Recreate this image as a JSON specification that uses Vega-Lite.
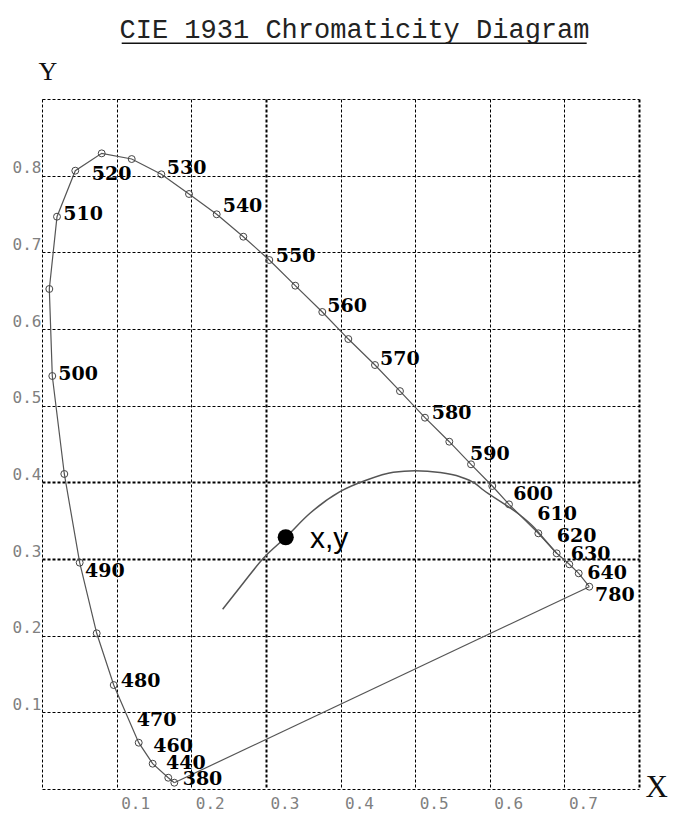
{
  "$schema": "https://vega.github.io/schema/vega-lite/v6.json",
  "width": 597,
  "height": 690,
  "autosize": {"type": "none"},
  "padding": {"left": 42, "top": 99, "right": 59, "bottom": 29},
  "background": "white",
  "title": {
    "text": "CIE 1931 Chromaticity Diagram",
    "font": "Liberation Mono",
    "fontSize": 27,
    "fontWeight": "normal",
    "color": "#222222",
    "anchor": "middle",
    "frame": "group",
    "baseline": "alphabetic",
    "offset": -22,
    "dx": 14
  },
  "config": {"view": {"stroke": null}},
  "datasets": {
    "locus": [
      {"wl": 380, "x": 0.1773, "y": 0.0082},
      {"wl": 440, "x": 0.1692, "y": 0.0147},
      {"wl": 460, "x": 0.1483, "y": 0.0330},
      {"wl": 470, "x": 0.1296, "y": 0.0604},
      {"wl": 480, "x": 0.0961, "y": 0.1356},
      {"wl": 485, "x": 0.0733, "y": 0.2031},
      {"wl": 490, "x": 0.0505, "y": 0.2952},
      {"wl": 495, "x": 0.0299, "y": 0.4109},
      {"wl": 500, "x": 0.0138, "y": 0.5387},
      {"wl": 505, "x": 0.0098, "y": 0.6522},
      {"wl": 510, "x": 0.0201, "y": 0.7465},
      {"wl": 515, "x": 0.0446, "y": 0.8065},
      {"wl": 520, "x": 0.0800, "y": 0.8291},
      {"wl": 525, "x": 0.1202, "y": 0.8217},
      {"wl": 530, "x": 0.1599, "y": 0.8018},
      {"wl": 535, "x": 0.1970, "y": 0.7761},
      {"wl": 540, "x": 0.2341, "y": 0.7496},
      {"wl": 545, "x": 0.2698, "y": 0.7204},
      {"wl": 550, "x": 0.3046, "y": 0.6900},
      {"wl": 555, "x": 0.3394, "y": 0.6565},
      {"wl": 560, "x": 0.3756, "y": 0.6222},
      {"wl": 565, "x": 0.4105, "y": 0.5869},
      {"wl": 570, "x": 0.4462, "y": 0.5530},
      {"wl": 575, "x": 0.4797, "y": 0.5190},
      {"wl": 580, "x": 0.5132, "y": 0.4843},
      {"wl": 585, "x": 0.5458, "y": 0.4530},
      {"wl": 590, "x": 0.5749, "y": 0.4235},
      {"wl": 595, "x": 0.6034, "y": 0.3952},
      {"wl": 600, "x": 0.6258, "y": 0.3713},
      {"wl": 610, "x": 0.6651, "y": 0.3335},
      {"wl": 620, "x": 0.6897, "y": 0.3074},
      {"wl": 630, "x": 0.7066, "y": 0.2931},
      {"wl": 640, "x": 0.7192, "y": 0.2813},
      {"wl": 780, "x": 0.7334, "y": 0.2639}
    ],
    "purple": [
      {"wl": 780, "x": 0.7334, "y": 0.2639},
      {"wl": 380, "x": 0.1773, "y": 0.0082}
    ],
    "labels": [
      {"label": "380", "x": 0.1885, "y": 0.0127},
      {"label": "440", "x": 0.1662, "y": 0.0333},
      {"label": "460", "x": 0.1491, "y": 0.0561},
      {"label": "470", "x": 0.1269, "y": 0.0897},
      {"label": "480", "x": 0.1055, "y": 0.1409},
      {"label": "490", "x": 0.0576, "y": 0.2850},
      {"label": "500", "x": 0.0219, "y": 0.5419},
      {"label": "510", "x": 0.0285, "y": 0.7506},
      {"label": "520", "x": 0.0666, "y": 0.8028},
      {"label": "530", "x": 0.1671, "y": 0.8100},
      {"label": "540", "x": 0.2421, "y": 0.7604},
      {"label": "550", "x": 0.3132, "y": 0.6952},
      {"label": "560", "x": 0.3823, "y": 0.6304},
      {"label": "570", "x": 0.4529, "y": 0.5605},
      {"label": "580", "x": 0.5222, "y": 0.4904},
      {"label": "590", "x": 0.5735, "y": 0.4376},
      {"label": "600", "x": 0.6316, "y": 0.3854},
      {"label": "610", "x": 0.6637, "y": 0.3583},
      {"label": "620", "x": 0.6897, "y": 0.3297},
      {"label": "630", "x": 0.7085, "y": 0.3059},
      {"label": "640", "x": 0.7307, "y": 0.2811},
      {"label": "780", "x": 0.7410, "y": 0.2528}
    ],
    "planck": [
      {"i": 1, "x": 0.2421, "y": 0.2344},
      {"i": 2, "x": 0.2698, "y": 0.2687},
      {"i": 3, "x": 0.2966, "y": 0.3009},
      {"i": 4, "x": 0.3266, "y": 0.3283},
      {"i": 5, "x": 0.3591, "y": 0.3596},
      {"i": 6, "x": 0.3993, "y": 0.3878},
      {"i": 7, "x": 0.4351, "y": 0.4030},
      {"i": 8, "x": 0.4708, "y": 0.4131},
      {"i": 9, "x": 0.4998, "y": 0.4152},
      {"i": 10, "x": 0.5333, "y": 0.4128},
      {"i": 11, "x": 0.5601, "y": 0.4073},
      {"i": 12, "x": 0.5802, "y": 0.3987},
      {"i": 13, "x": 0.5914, "y": 0.3900},
      {"i": 14, "x": 0.6182, "y": 0.3726},
      {"i": 15, "x": 0.6405, "y": 0.3574},
      {"i": 16, "x": 0.6584, "y": 0.3421},
      {"i": 17, "x": 0.6740, "y": 0.3248},
      {"i": 18, "x": 0.6897, "y": 0.3074}
    ],
    "whitepoint": [
      {"label": "x,y", "x": 0.3266, "y": 0.3283}
    ],
    "whitelabel": [
      {"label": "x,y", "x": 0.3591, "y": 0.3139}
    ],
    "underline": [
      {"x": 0.1068, "x2": 0.7299, "y": 0.9726}
    ]
  },
  "encoding": {
    "x": {
      "field": "x",
      "type": "quantitative",
      "scale": {"domain": [0, 0.8], "nice": false, "zero": false},
      "axis": {
        "title": "X",
        "titleFont": "Liberation Serif",
        "titleFontSize": 31,
        "titleFontWeight": "normal",
        "titleColor": "#111111",
        "titleAngle": 0,
        "titleAlign": "left",
        "titleBaseline": "alphabetic",
        "titleX": 603,
        "titleY": 7,
        "values": [0, 0.1, 0.2, 0.3, 0.4, 0.5, 0.6, 0.7, 0.8],
        "format": ".1f",
        "labelExpr": "datum.value < 0.05 || datum.value > 0.75 ? '' : datum.label",
        "labelFont": "DejaVu Sans Mono",
        "labelFontSize": 16,
        "labelColor": "#808080",
        "labelAlign": "left",
        "labelBaseline": "top",
        "labelOffset": 4,
        "labelPadding": 6,
        "labelFlush": false,
        "labelOverlap": false,
        "ticks": false,
        "tickSize": 0,
        "domain": false,
        "grid": true,
        "gridColor": "#000000",
        "gridOpacity": 1,
        "gridDash": [3, 2],
        "gridWidth": {"condition": {"test": "abs(datum.value - 0.3) < 0.01 || datum.value > 0.75", "value": 2}, "value": 1}
      }
    },
    "y": {
      "field": "y",
      "type": "quantitative",
      "scale": {"domain": [0, 0.9], "nice": false, "zero": false},
      "axis": {
        "title": "Y",
        "titleFont": "Liberation Serif",
        "titleFontSize": 26,
        "titleFontWeight": "normal",
        "titleColor": "#111111",
        "titleAngle": 0,
        "titleAlign": "left",
        "titleBaseline": "alphabetic",
        "titleX": -4,
        "titleY": -20,
        "values": [0, 0.1, 0.2, 0.3, 0.4, 0.5, 0.6, 0.7, 0.8, 0.9],
        "format": ".1f",
        "labelExpr": "datum.value < 0.05 || datum.value > 0.85 ? '' : datum.label",
        "labelFont": "DejaVu Sans Mono",
        "labelFontSize": 16,
        "labelColor": "#808080",
        "labelAlign": "right",
        "labelBaseline": "middle",
        "labelOffset": -8,
        "labelPadding": 1,
        "labelFlush": false,
        "labelOverlap": false,
        "ticks": false,
        "tickSize": 0,
        "domain": false,
        "grid": true,
        "gridColor": "#000000",
        "gridOpacity": 1,
        "gridDash": [3, 2],
        "gridWidth": {"condition": {"test": "abs(datum.value - 0.3) < 0.01 || abs(datum.value - 0.4) < 0.01", "value": 2}, "value": 1}
      }
    }
  },
  "layer": [
    {
      "data": {"name": "purple"},
      "mark": {"type": "line", "color": "#555555", "strokeWidth": 1.2},
      "encoding": {"order": {"field": "wl", "type": "quantitative"}}
    },
    {
      "data": {"name": "locus"},
      "mark": {"type": "line", "color": "#555555", "strokeWidth": 1.2},
      "encoding": {"order": {"field": "wl", "type": "quantitative"}}
    },
    {
      "data": {"name": "locus"},
      "mark": {"type": "point", "shape": "circle", "filled": false, "color": "#444444", "size": 48, "strokeWidth": 1, "opacity": 1}
    },
    {
      "data": {"name": "planck"},
      "mark": {"type": "line", "color": "#555555", "strokeWidth": 1.5, "interpolate": "monotone"},
      "encoding": {"order": {"field": "i", "type": "quantitative"}}
    },
    {
      "data": {"name": "whitepoint"},
      "mark": {"type": "point", "shape": "circle", "filled": true, "color": "#000000", "size": 260, "opacity": 1}
    },
    {
      "data": {"name": "whitelabel"},
      "mark": {"type": "text", "align": "left", "baseline": "alphabetic", "font": "Liberation Sans", "fontSize": 30, "color": "#000000"},
      "encoding": {"text": {"field": "label"}}
    },
    {
      "data": {"name": "labels"},
      "mark": {"type": "text", "align": "left", "baseline": "middle", "font": "DejaVu Serif", "fontSize": 19, "fontWeight": "bold", "color": "#000000"},
      "encoding": {"text": {"field": "label"}}
    },
    {
      "data": {"name": "underline"},
      "mark": {"type": "rule", "color": "#111111", "strokeWidth": 1.5, "opacity": 1, "clip": false},
      "encoding": {
        "x2": {"field": "x2", "type": "quantitative"}
      }
    }
  ]
}
